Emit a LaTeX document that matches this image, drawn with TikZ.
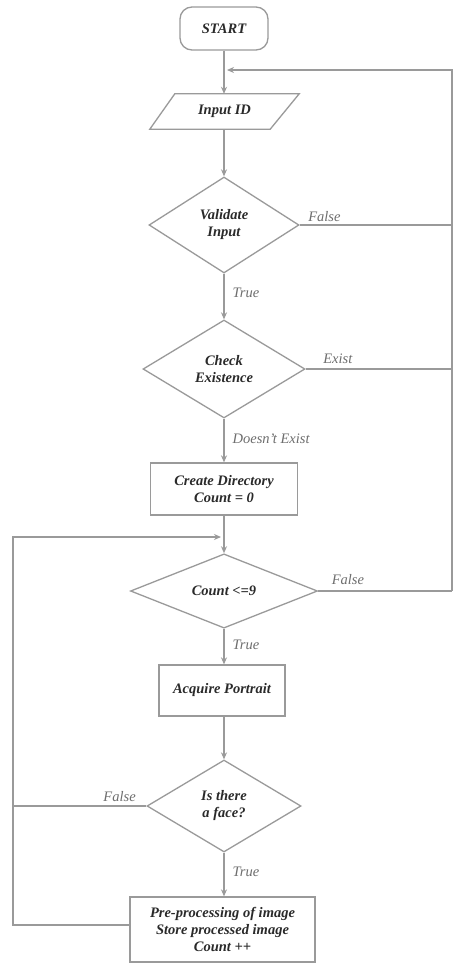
\documentclass[tikz,border=0pt]{standalone}
\usepackage{fontspec}
\setmainfont{Liberation Serif}
\usetikzlibrary{shapes.geometric,arrows.meta}
\definecolor{ln}{HTML}{9A9A9A}
\definecolor{tx}{HTML}{2A2A2A}
\definecolor{lb}{HTML}{6E6E6E}
\begin{document}
\begin{tikzpicture}[x=1pt,y=-1pt,
  base/.style={draw=ln,line width=1.3pt,text=tx,inner sep=0pt,align=center,
    font=\fontsize{14.5}{17}\selectfont\bfseries\itshape},
  term/.style={base,rounded corners=12pt,minimum width=88pt,minimum height=43pt},
  proc/.style={base,rectangle},
  dec/.style={base,diamond},
  io/.style={text=tx,inner sep=0pt,align=center,font=\fontsize{14.5}{17}\selectfont\bfseries\itshape},
  flow/.style={draw=ln,line width=1.3pt,-{Stealth[length=7pt,width=6pt]}},
  link/.style={draw=ln,line width=1.3pt},
  lab/.style={text=lb,inner sep=0pt,font=\fontsize{14.5}{17}\selectfont\itshape}]
\useasboundingbox (0,0) rectangle (453,964);
\fill[white] (0,0) rectangle (453,964);

\node[term] (start) at (224,28.5) {START};
\node[io,minimum width=149pt,minimum height=35pt] (inp) at (224.5,111.5) {Input ID};
\draw[link] ([xshift=0pt]inp.south west) -- ([xshift=-29pt]inp.south east)
  -- (inp.north east) -- ([xshift=25pt]inp.north west) -- cycle;
\node[dec,minimum width=150pt,minimum height=96pt] (val) at (224,225) {Validate\\Input};
\node[dec,minimum width=162pt,minimum height=98pt] (chk) at (224,369) {Check\\Existence};
\node[proc,minimum width=147pt,minimum height=52pt] (cd) at (224,489) {Create Directory\\Count = 0};
\node[dec,minimum width=187pt,minimum height=60pt] (cnt) at (224,591) {Count <=9};
\node[proc,minimum width=126pt,minimum height=51pt] (acq) at (222,690.5) {Acquire Portrait};
\node[dec,minimum width=154pt,minimum height=92pt] (face) at (224,806) {Is there\\a face?};
\node[proc,minimum width=185pt,minimum height=65pt] (fin) at (222.5,929.5) {Pre-processing of image\\Store processed image\\Count ++};

\coordinate (rtop) at (452,70);
\coordinate (ain) at (227,70);
\coordinate (rv) at (452,225);
\coordinate (rc) at (452,369);
\coordinate (rn) at (452,591);
\coordinate (lf) at (13,806);
\coordinate (lb) at (13,925);
\coordinate (lt) at (13,537);
\coordinate (aln) at (221,537);

\draw[flow] (start.south) -- (start.south |- inp.north);
\draw[flow] (inp.south -| start.south) -- (val.north);
\draw[flow] (val.south) -- node[lab,anchor=west,xshift=8pt,pos=0.42] {True} (chk.north);
\draw[flow] (chk.south) -- node[lab,anchor=west,xshift=8pt,pos=0.45] {Doesn't Exist} (chk.south |- cd.north);
\draw[flow] (chk.south |- cd.south) -- (cnt.north);
\draw[flow] (cnt.south) -- node[lab,anchor=west,xshift=8pt,pos=0.45] {True} (cnt.south |- acq.north);
\draw[flow] (cnt.south |- acq.south) -- (face.north);
\draw[flow] (face.south) -- node[lab,anchor=west,xshift=8pt,pos=0.45] {True} (face.south |- fin.north);

\draw[link] (val.east) -- node[lab,anchor=south west,pos=0,xshift=8pt,yshift=3pt] {False} (rv);
\draw[link] (chk.east) -- node[lab,anchor=south west,pos=0,xshift=17pt,yshift=5pt] {Exist} (rc);
\draw[link] (cnt.east) -- node[lab,anchor=south west,pos=0,xshift=13pt,yshift=6pt] {False} (rn);
\draw[flow] (rn) -- (rtop) -- (ain);

\draw[link] (face.west) -- node[lab,anchor=south east,pos=0,xshift=-10pt,yshift=4pt] {False} (lf);
\draw[flow] (fin.west |- lb) -- (lb) -- (lt) -- (aln);
\end{tikzpicture}
\end{document}
